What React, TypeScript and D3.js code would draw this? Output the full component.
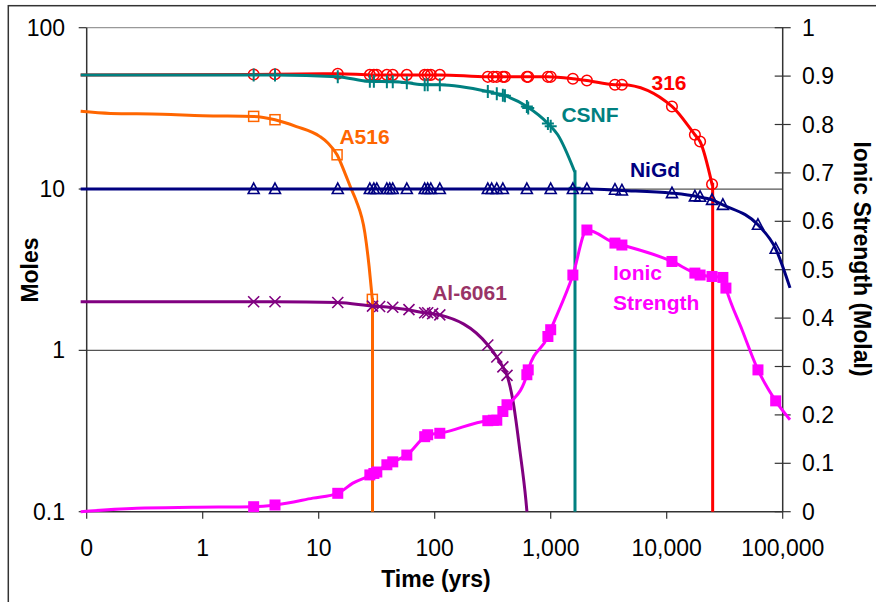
import React from 'react';
import * as d3 from 'd3';

type P = [number, number];

// Axis ticks
const xTickValues = [0.1, 1, 10, 100, 1000, 10000, 100000];
const xTickLabels = ['0', '1', '10', '100', '1,000', '10,000', '100,000'];
const yLeftTicks = [0.1, 1, 10, 100];
const yLeftLabels = ['0.1', '1', '10', '100'];
const yRightTicks = [0, 0.1, 0.2, 0.3, 0.4, 0.5, 0.6, 0.7, 0.8, 0.9, 1];
const yRightLabels = ['0', '0.1', '0.2', '0.3', '0.4', '0.5', '0.6', '0.7', '0.8', '0.9', '1'];

// 316 (moles)
const line316: P[] = [[0.0887, 51], [2.75, 51.3], [4.2, 51.5], [14.6, 51.8], [29.9, 51], [43.5, 51], [110.7, 51], [287, 49.6], [387, 49.6], [946, 49.6], [1553, 48.3], [2052, 47.1], [3580, 44.3], [4110, 44.3], [11100, 32.5], [17500, 21.7], [19400, 19.7], [24600, 10.7]];
const drop316 = 24900;
const marks316: P[] = [[2.75, 51.3], [4.2, 51.5], [14.6, 51.8], [27.6, 51], [29.9, 51], [31.7, 51], [38.7, 51], [43.5, 51], [57.5, 51], [82, 51], [87, 51], [92.6, 51], [110.7, 51], [287, 49.6], [320, 49.6], [343, 49.6], [387, 49.6], [403, 49.6], [623, 49.6], [640, 49.6], [946, 49.6], [1000, 49.6], [1553, 48.3], [2052, 47.1], [3580, 44.3], [4110, 44.3], [11100, 32.5], [17500, 21.7], [19400, 19.7], [24600, 10.7]];

// CSNF (moles)
const lineCSNF: P[] = [[0.0887, 51], [4.2, 51], [14.6, 49.7], [27.6, 46.5], [43.5, 46.2], [57.5, 45.6], [82, 44.3], [110.7, 44.3], [287, 40.2], [403, 37.9], [623, 32.5], [946, 25.5], [1150, 21.7], [1610, 12.8]];
const dropCSNF = 1620;
const marksCSNF: P[] = [[2.75, 51], [4.2, 51], [14.6, 49.7], [27.6, 46.5], [29.9, 46.5], [38.7, 46.2], [43.5, 46.2], [57.5, 45.6], [82, 44.3], [87, 44.3], [110.7, 44.3], [287, 40.2], [343, 39], [387, 38.2], [403, 37.9], [623, 32.5], [640, 31.8], [946, 25.5], [1000, 24.5], [1610, 10.2]];

// A516 (moles)
const lineA516: P[] = [[0.0887, 30.3], [0.16, 29.4], [0.45, 29.1], [1, 28.5], [2.75, 28.2], [4.2, 26.9], [6.43, 24.4], [10.2, 21.2], [12, 19.3], [14.4, 16.3], [16.8, 12.6], [19.2, 9.9], [20.9, 8.57], [25, 5.35], [27.2, 3.31], [29.0, 2.07]];
const dropA516 = 29.1;
const marksA516: P[] = [[2.75, 28.2], [4.2, 26.9], [14.4, 16.3], [29.0, 2.07]];

// NiGd (moles)
const lineNiGd: P[] = [[0.0887, 10], [2052, 10], [4110, 9.8], [11100, 9.43], [18500, 8.98], [24600, 8.57], [30500, 7.98], [61200, 6.0], [87000, 4.26], [115600, 2.44]];
const marksNiGd: P[] = [[2.75, 10], [4.2, 10], [14.6, 10], [27.6, 10], [29.9, 10], [31.7, 10], [38.7, 10], [41, 10], [43.5, 10], [57.5, 10], [82, 10], [87, 10], [92.6, 10], [110.7, 10], [287, 10], [310, 10], [343, 10], [387, 10], [623, 10], [1000, 10], [1553, 10], [2052, 10], [3580, 9.9], [4110, 9.8], [11100, 9.43], [17500, 9.0], [19400, 8.95], [24600, 8.57], [30500, 7.98], [61200, 6.0], [87000, 4.26]];

// Al-6061 (moles)
const lineAl: P[] = [[0.0887, 2], [4.2, 2], [14.6, 1.98], [29.9, 1.88], [38.7, 1.86], [57.5, 1.79], [82, 1.71], [110.7, 1.66], [287, 1.08], [343, 0.91], [387, 0.79], [420, 0.7], [472, 0.49], [542, 0.24], [611, 0.118], [624, 0.1]];
const marksAl: P[] = [[2.75, 2], [4.2, 2], [14.6, 1.98], [29.1, 1.88], [33.5, 1.87], [43.5, 1.85], [60, 1.79], [82, 1.71], [87, 1.71], [96, 1.69], [110.7, 1.66], [287, 1.08], [343, 0.91], [387, 0.79], [420, 0.7]];

// Ionic strength (molal, right axis)
const lineIS: P[] = [[0.0887, 0], [0.27, 0.007], [0.82, 0.009], [2.75, 0.0103], [4.2, 0.0139], [8.9, 0.028], [14.6, 0.038], [19.7, 0.059], [29.5, 0.078], [38.7, 0.097], [43.5, 0.103], [57.5, 0.117], [82, 0.155], [87, 0.159], [110.7, 0.162], [287, 0.188], [343, 0.189], [387, 0.207], [420, 0.221], [472, 0.231], [623, 0.283], [640, 0.293], [946, 0.362], [1000, 0.376], [1553, 0.489], [2052, 0.582], [3580, 0.555], [4110, 0.551], [11100, 0.517], [17500, 0.493], [19400, 0.489], [24600, 0.486], [30500, 0.484], [32400, 0.462], [44600, 0.376], [61200, 0.293], [87000, 0.229], [115600, 0.19]];
const marksIS: P[] = [[2.75, 0.0103], [4.2, 0.0139], [14.6, 0.038], [27.6, 0.076], [29.9, 0.079], [31.7, 0.082], [38.7, 0.097], [43.5, 0.103], [57.5, 0.117], [82, 0.155], [87, 0.159], [110.7, 0.162], [287, 0.188], [320, 0.189], [343, 0.189], [387, 0.207], [420, 0.221], [623, 0.283], [640, 0.293], [946, 0.362], [1000, 0.376], [1553, 0.489], [2052, 0.582], [3580, 0.555], [4110, 0.551], [11100, 0.517], [17500, 0.493], [19400, 0.489], [24600, 0.486], [30500, 0.484], [32400, 0.462], [61200, 0.293], [87000, 0.229]];

const FONT = '"Liberation Sans", Arial, Helvetica, sans-serif';

export default function App() {
  const W = 876, H = 602;
  const L = 86.7, R = 782.7, T = 27.7, B = 511.7;
  const x = d3.scaleLog().domain([0.1, 100000]).range([L, R]);
  const yL = d3.scaleLog().domain([0.1, 100]).range([B, T]);
  const yR = d3.scaleLinear().domain([0, 1]).range([B, T]);

  const lineL = d3.line<P>().x(d => x(d[0])).y(d => yL(d[1])).curve(d3.curveMonotoneX);
  const lineR = d3.line<P>().x(d => x(d[0])).y(d => yR(d[1])).curve(d3.curveMonotoneX);
  const withDrop = (pts: P[], dropT: number) => {
    const last = pts[pts.length - 1];
    return (lineL(pts) || '') + `L${x(dropT)},${yL(last[1])}L${x(dropT)},${yL(0.1)}`;
  };

  const circle = (pts: P[], color: string) => pts.map((d, i) => (
    <circle key={i} cx={x(d[0])} cy={yL(d[1])} r={5.3} fill="none" stroke={color} strokeWidth={1.5} />
  ));
  const plus = (pts: P[], color: string) => pts.map((d, i) => {
    const cx = x(d[0]), cy = yL(d[1]);
    return <path key={i} d={`M${cx - 6},${cy}H${cx + 6}M${cx},${cy - 6.5}V${cy + 6.5}`} stroke={color} strokeWidth={2} fill="none" />;
  });
  const openSquare = (pts: P[], color: string) => pts.map((d, i) => (
    <rect key={i} x={x(d[0]) - 5} y={yL(d[1]) - 5} width={10} height={10} fill="white" fillOpacity={0} stroke={color} strokeWidth={1.5} />
  ));
  const triangle = (pts: P[], color: string) => pts.map((d, i) => {
    const cx = x(d[0]), cy = yL(d[1]);
    return <path key={i} d={`M${cx},${cy - 6}L${cx + 5.5},${cy + 4.5}L${cx - 5.5},${cy + 4.5}Z`} fill="none" stroke={color} strokeWidth={1.6} />;
  });
  const cross = (pts: P[], color: string) => pts.map((d, i) => {
    const cx = x(d[0]), cy = yL(d[1]);
    return <path key={i} d={`M${cx - 5.5},${cy - 5.5}L${cx + 5.5},${cy + 5.5}M${cx + 5.5},${cy - 5.5}L${cx - 5.5},${cy + 5.5}`} fill="none" stroke={color} strokeWidth={1.6} />;
  });
  const filledSquare = (pts: P[], color: string) => pts.map((d, i) => (
    <rect key={i} x={x(d[0]) - 5.5} y={yR(d[1]) - 5.5} width={11} height={11} fill={color} />
  ));

  const red = '#FF0000', teal = '#008080', navy = '#000080', orange = '#FF6600', purple = '#800080', magenta = '#FF00FF';

  return (
    <svg width={W} height={H} style={{ position: 'absolute', left: 0, top: 0, background: 'white' }} fontFamily={FONT}>
      <rect x={0} y={0} width={W} height={H} fill="white" />
      <rect x={8.3} y={5.7} width={W + 20} height={H + 20} fill="none" stroke="#333" strokeWidth={1.5} />

      {/* gridlines */}
      {yLeftTicks.slice(1).map((v, i) => (
        <line key={i} x1={L} x2={R} y1={yL(v)} y2={yL(v)} stroke={v === 100 ? '#999' : '#555'} strokeWidth={1.2} />
      ))}

      {/* axes */}
      <line x1={L} x2={L} y1={T} y2={B} stroke="#333" strokeWidth={1.5} />
      <line x1={R} x2={R} y1={T} y2={B} stroke="#333" strokeWidth={1.5} />
      <line x1={L} x2={R} y1={B} y2={B} stroke="#333" strokeWidth={1.5} />
      {yLeftTicks.map((v, i) => (
        <g key={i}>
          <line x1={L - 8} x2={L} y1={yL(v)} y2={yL(v)} stroke="#333" strokeWidth={1.2} />
          <text x={65} y={yL(v) + 8} fontSize={23} textAnchor="end" fill="#000">{yLeftLabels[i]}</text>
        </g>
      ))}
      {xTickValues.map((v, i) => (
        <g key={i}>
          <line x1={x(v)} x2={x(v)} y1={B} y2={B + 7} stroke="#333" strokeWidth={1.2} />
          <text x={x(v)} y={556} fontSize={23} textAnchor="middle" fill="#000">{xTickLabels[i]}</text>
        </g>
      ))}
      {yRightTicks.map((v, i) => (
        <g key={i}>
          <line x1={R - 8} x2={R + 8} y1={yR(v)} y2={yR(v)} stroke="#333" strokeWidth={1.2} />
          <text x={802} y={yR(v) + 8} fontSize={23} textAnchor="start" fill="#000">{yRightLabels[i]}</text>
        </g>
      ))}

      {/* axis titles */}
      <text x={436} y={587} fontSize={23} fontWeight="bold" textAnchor="middle">Time (yrs)</text>
      <text transform="translate(37.5,270) rotate(-90)" fontSize={23} fontWeight="bold" textAnchor="middle">Moles</text>
      <text transform="translate(854,259) rotate(90)" fontSize={23} fontWeight="bold" textAnchor="middle">Ionic Strength (Molal)</text>

      {/* series */}
      <path d={withDrop(line316, drop316)} fill="none" stroke={red} strokeWidth={3} />
      {circle(marks316, red)}
      <path d={withDrop(lineCSNF, dropCSNF)} fill="none" stroke={teal} strokeWidth={3} />
      {plus(marksCSNF, teal)}
      <path d={withDrop(lineA516, dropA516)} fill="none" stroke={orange} strokeWidth={3} />
      {openSquare(marksA516, orange)}
      <path d={lineL(lineNiGd) || ''} fill="none" stroke={navy} strokeWidth={3} />
      {triangle(marksNiGd, navy)}
      <path d={lineL(lineAl) || ''} fill="none" stroke={purple} strokeWidth={3} />
      {cross(marksAl, purple)}
      <path d={lineR(lineIS) || ''} fill="none" stroke={magenta} strokeWidth={3} />
      {filledSquare(marksIS, magenta)}

      {/* series labels */}
      <g fontSize={21} fontWeight="bold">
        <text x={669} y={90} fill={red} textAnchor="middle">316</text>
        <text x={590} y={121.5} fill={teal} textAnchor="middle">CSNF</text>
        <text x={655} y={176.5} fill={navy} textAnchor="middle">NiGd</text>
        <text x={364.5} y={144} fill={orange} textAnchor="middle">A516</text>
        <text x={469.5} y={300} fill="#993366" textAnchor="middle">Al-6061</text>
        <text x={613} y={280} fill={magenta}>Ionic</text>
        <text x={613} y={310} fill={magenta}>Strength</text>
      </g>
    </svg>
  );
}
